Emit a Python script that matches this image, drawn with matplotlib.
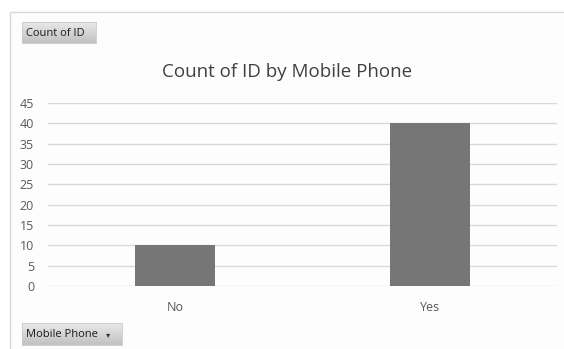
import matplotlib.pyplot as plt
from matplotlib.colors import LinearSegmentedColormap
from matplotlib.patches import Rectangle
import numpy as np

categories = ["No", "Yes"]
counts = [10, 40]
yticks = [0, 5, 10, 15, 20, 25, 30, 35, 40, 45]

W, H = 564, 349
fig = plt.figure(figsize=(W / 100, H / 100), dpi=100)
fig.patch.set_facecolor("white")

# outer chart frame
frame = fig.add_axes([0, 0, 1, 1])
frame.axis("off")
frame.add_patch(Rectangle((10, 12), W, H, facecolor="#fdfdfd", edgecolor="#d9d9d9", lw=1))

btn_cmap = LinearSegmentedColormap.from_list("btn", ["#e8e8e8", "#c2c2c2"])

# field buttons
def button(x, y, w, h, label):
    grad = np.linspace(0, 1, 20).reshape(-1, 1)
    frame.imshow(grad, cmap=btn_cmap, extent=(x, x + w, y + h, y), aspect="auto", zorder=2)
    frame.add_patch(Rectangle((x, y), w, h, fill=False, edgecolor="#c8c8c8", lw=0.6, zorder=3))
    frame.text(x + 4, y + h / 2 + 0.5, label, fontsize=8, family="Open Sans", color="#1a1a1a",
               va="center", ha="left", zorder=4)

button(22, 22, 74, 21, "Count of ID")
button(22, 323, 100, 22, "Mobile Phone")
frame.text(108, 334.5, "\u25be", fontsize=6, color="#333333", ha="center", va="center", zorder=4)
frame.set_xlim(0, W)
frame.set_ylim(H, 0)

frame.text(287, 72, "Count of ID by Mobile Phone", fontsize=13.5, family="Open Sans",
           color="#404040", ha="center", va="center")

# plot area
x0, x1 = 48, 557
y_top, y_bot = 103, 286
ax = fig.add_axes([x0 / W, 1 - y_bot / H, (x1 - x0) / W, (y_bot - y_top) / H])
ax.set_facecolor("none")
x = np.arange(len(categories))
ax.bar(x, counts, width=0.315, color="#767676", zorder=3)
ax.set_xlim(-0.5, len(categories) - 0.5)
ax.set_ylim(0, 45)
ax.set_yticks(yticks)
ax.set_xticks(x)
ax.set_xticklabels(categories)
ax.grid(axis="y", color="#d9d9d9", lw=1, zorder=0)
for s in ax.spines.values():
    s.set_visible(False)
ax.tick_params(length=0, labelsize=9, labelcolor="#595959")
ax.tick_params(axis="y", pad=10)
ax.tick_params(axis="x", pad=10.5)
for lab in ax.get_xticklabels() + ax.get_yticklabels():
    lab.set_family("Open Sans")

fig.savefig("out.png", dpi=100, facecolor="white")
